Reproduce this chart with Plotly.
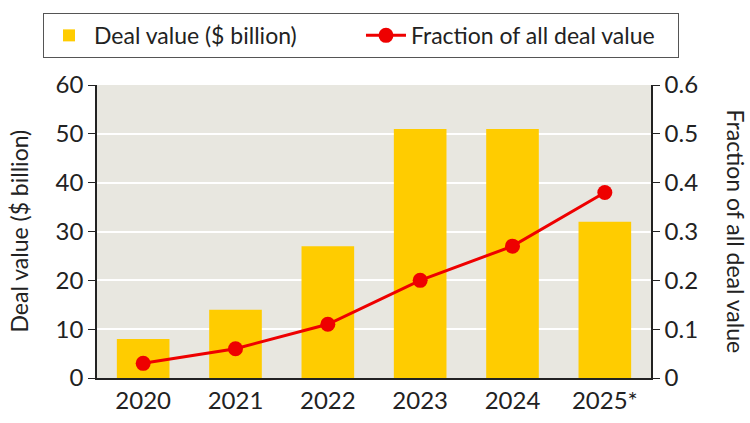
import plotly.graph_objects as go

years = ["2020", "2021", "2022", "2023", "2024", "2025*"]
deal_value = [8, 14, 27, 51, 51, 32]
fraction = [0.03, 0.06, 0.11, 0.20, 0.27, 0.38]

FONT = "Lato"
fig = go.Figure()
fig.add_trace(go.Bar(x=years, y=deal_value, name="Deal value ($ billion)",
                     marker=dict(color="#FFCC00", line=dict(width=0)), width=0.57, yaxis="y"))
fig.add_trace(go.Scatter(x=years, y=fraction, name="Fraction of all deal value",
                         mode="lines+markers", line=dict(color="#EE0000", width=3),
                         marker=dict(color="#EE0000", size=15), yaxis="y2"))

fig.update_layout(
    width=750, height=423,
    margin=dict(l=97, r=99, t=85, b=45, autoexpand=False),
    paper_bgcolor="white", plot_bgcolor="#E8E7E0",
    font=dict(family=FONT, size=23, color="#222"),
    showlegend=True,
    legend=dict(orientation="h", x=-0.0975, xanchor="left", y=1.246, yanchor="top",
                bordercolor="#555", borderwidth=1, font=dict(size=23), itemwidth=40,
                entrywidth=262, bgcolor="white"),
    xaxis=dict(range=[-0.5, 5.5], showline=True, linecolor="#222", linewidth=1.5,
               ticks="", tickfont=dict(size=24), showgrid=False, fixedrange=True,
               automargin=False),
    yaxis=dict(range=[0, 60], dtick=10, showline=True, linecolor="#222", linewidth=1.5,
               ticks="outside", ticklen=7, tickcolor="#222", gridcolor="white", gridwidth=2,
               zeroline=False, tickfont=dict(size=24), automargin=False),
    yaxis2=dict(range=[0, 0.6], dtick=0.1, overlaying="y", side="right", showline=True,
                linecolor="#222", linewidth=1.5, ticks="outside", ticklen=7, tickcolor="#222",
                showgrid=False, zeroline=False, tickfont=dict(size=24), tickformat="~g",
                automargin=False),
    annotations=[
        dict(text="Deal value ($ billion)", x=0, xshift=-79, y=0.5, xref="paper", yref="paper",
             showarrow=False, textangle=-90, font=dict(size=23), xanchor="center", yanchor="middle"),
        dict(text="Fraction of all deal value", x=1, xshift=85, y=0.5, xref="paper", yref="paper",
             showarrow=False, textangle=90, font=dict(size=23), xanchor="center", yanchor="middle"),
    ],
)

fig.write_html("out.html")
